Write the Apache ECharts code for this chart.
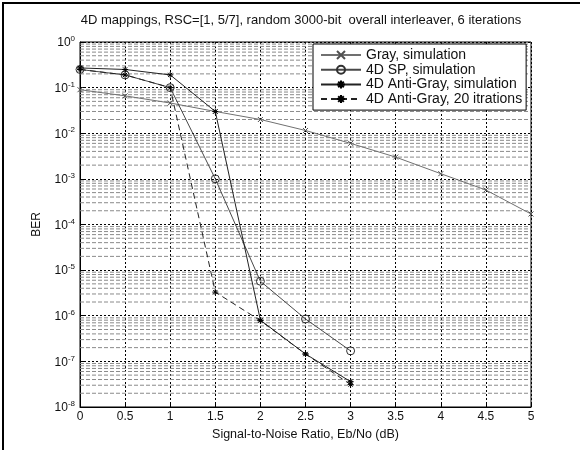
<!DOCTYPE html>
<html>
<head>
<meta charset="utf-8">
<script src="https://cdn.jsdelivr.net/npm/echarts@6/dist/echarts.min.js"></script>
<style>
  html, body { margin: 0; padding: 0; background: #fff; }
  #chart { width: 580px; height: 450px; }
</style>
</head>
<body>
<div id="chart"></div>
<script>
// Eb/No points (dB)
var snrGray = [0, 0.5, 1, 1.5, 2, 2.5, 3, 3.5, 4, 4.5, 5];
var snr4D = [0, 0.5, 1, 1.5, 2, 2.5, 3];

// BER values
var berGray = [0.09, 0.066, 0.046, 0.03, 0.02, 0.0115, 0.006, 0.003, 0.0013, 0.00057, 0.00017];
var berSP = [0.25, 0.19, 0.1, 0.001, 5.7e-6, 8.5e-7, 1.7e-7];
var berAntiGray = [0.27, 0.25, 0.19, 0.03, 8e-7, 1.45e-7, 3.6e-8];
var berAntiGray20 = [0.25, 0.19, 0.1, 3.3e-6, 7.8e-7, 1.45e-7, 3.1e-8];

var seriesNames = ['Gray, simulation', '4D SP, simulation', '4D Anti-Gray, simulation', '4D Anti-Gray, 20 itrations'];
var titleText = '4D mappings, RSC=[1, 5/7], random 3000-bit  overall interleaver, 6 iterations';

var FONT = '"Liberation Sans", Arial, sans-serif';
var SYM_X = 'path://M0,0L10,10M0,10L10,0';
var SYM_STAR = 'path://M5,0L5,10M0,5L10,5M1.5,1.5L8.5,8.5M1.5,8.5L8.5,1.5';

function pairs(xs, ys) {
    return xs.map(function (x, i) { return [x, ys[i]]; });
}

// minor grid lines at 2..9 x 10^k, drawn as broken line segments across the x range
var minorGrid = [];
for (var k = 1; k <= 8; k++) {
    for (var m = 2; m <= 9; m++) {
        var v = m * Math.pow(10, -k);
        minorGrid.push([0, v], [5, v], '-');
    }
}

var chart = echarts.init(document.getElementById('chart'));

chart.setOption({
    animation: false,
    textStyle: { fontFamily: FONT },
    graphic: [
        {
            type: 'polyline',
            shape: { points: [[3, 450], [3, 3], [580, 3]] },
            style: { stroke: '#000', lineWidth: 2, fill: 'none' }
        },
        {
            type: 'text',
            x: 301,
            y: 20,
            style: {
                text: titleText,
                fontSize: 13,
                fontFamily: FONT,
                fill: '#111',
                align: 'center',
                verticalAlign: 'middle',
                textAlign: 'center',
                textVerticalAlign: 'middle'
            }
        }
    ],
    grid: {
        left: 80, right: 49, top: 42, bottom: 43,
        show: true, borderColor: '#000', borderWidth: 1
    },
    legend: {
        data: seriesNames,
        orient: 'vertical',
        left: 313,
        top: 44,
        z: 20,
        padding: [4, 4, 4, 7],
        itemWidth: 40,
        itemHeight: 10,
        itemGap: 0.7,
        backgroundColor: '#fff',
        borderColor: '#000',
        borderWidth: 1,
        textStyle: { fontSize: 14, lineHeight: 14, color: '#111', fontFamily: FONT }
    },
    xAxis: {
        type: 'value',
        min: 0,
        max: 5,
        interval: 0.5,
        name: 'Signal-to-Noise Ratio, Eb/No (dB)',
        nameLocation: 'middle',
        nameGap: 18,
        nameTextStyle: { fontSize: 12.5, color: '#111' },
        axisLine: { onZero: false, lineStyle: { color: '#000' } },
        axisTick: { inside: true, length: 4, lineStyle: { color: '#000' } },
        axisLabel: { fontSize: 12, color: '#111', margin: 4 },
        splitLine: { show: true, lineStyle: { color: '#000', type: [2, 2], width: 1 } }
    },
    yAxis: {
        type: 'log',
        logBase: 10,
        min: 1e-8,
        max: 1,
        name: 'BER',
        nameLocation: 'middle',
        nameGap: 37,
        nameTextStyle: { fontSize: 12, color: '#111' },
        axisLine: { lineStyle: { color: '#000' } },
        axisTick: { inside: true, length: 4, lineStyle: { color: '#000' } },
        axisLabel: {
            margin: 5,
            formatter: function (v) {
                return '{b|10}{s|' + Math.round(Math.log10(v)) + '}';
            },
            rich: {
                b: { fontSize: 12, color: '#111', fontFamily: FONT, verticalAlign: 'bottom' },
                s: { fontSize: 8, color: '#111', fontFamily: FONT, verticalAlign: 'bottom', padding: [0, 0, 6, 0] }
            }
        },
        splitLine: { show: true, lineStyle: { color: '#000', type: [2, 2], width: 1 } }
    },
    series: [
        {
            type: 'line',
            name: 'minor grid',
            data: minorGrid,
            silent: true,
            symbol: 'none',
            connectNulls: false,
            z: 1,
            lineStyle: { color: '#8a8a8a', type: [4, 2], width: 1 },
            emphasis: { disabled: true },
            tooltip: { show: false }
        },
        {
            type: 'line',
            name: seriesNames[0],
            data: pairs(snrGray, berGray),
            symbol: SYM_X,
            symbolSize: 5,
            z: 3,
            lineStyle: { color: '#707070', width: 1 },
            itemStyle: { color: 'none', borderColor: '#505050', borderWidth: 1 }
        },
        {
            type: 'line',
            name: seriesNames[1],
            data: pairs(snr4D, berSP),
            symbol: 'circle',
            symbolSize: 8,
            z: 4,
            lineStyle: { color: '#484848', width: 1 },
            itemStyle: { color: 'none', borderColor: '#303030', borderWidth: 1 }
        },
        {
            type: 'line',
            name: seriesNames[2],
            data: pairs(snr4D, berAntiGray),
            symbol: SYM_STAR,
            symbolSize: 6,
            z: 5,
            lineStyle: { color: '#222', width: 1 },
            itemStyle: { color: 'none', borderColor: '#000', borderWidth: 1 }
        },
        {
            type: 'line',
            name: seriesNames[3],
            data: pairs(snr4D, berAntiGray20),
            symbol: SYM_STAR,
            symbolSize: 6,
            z: 5,
            lineStyle: { color: '#222', width: 1, type: [6, 4] },
            itemStyle: { color: 'none', borderColor: '#000', borderWidth: 1 }
        }
    ]
});
</script>
</body>
</html>
